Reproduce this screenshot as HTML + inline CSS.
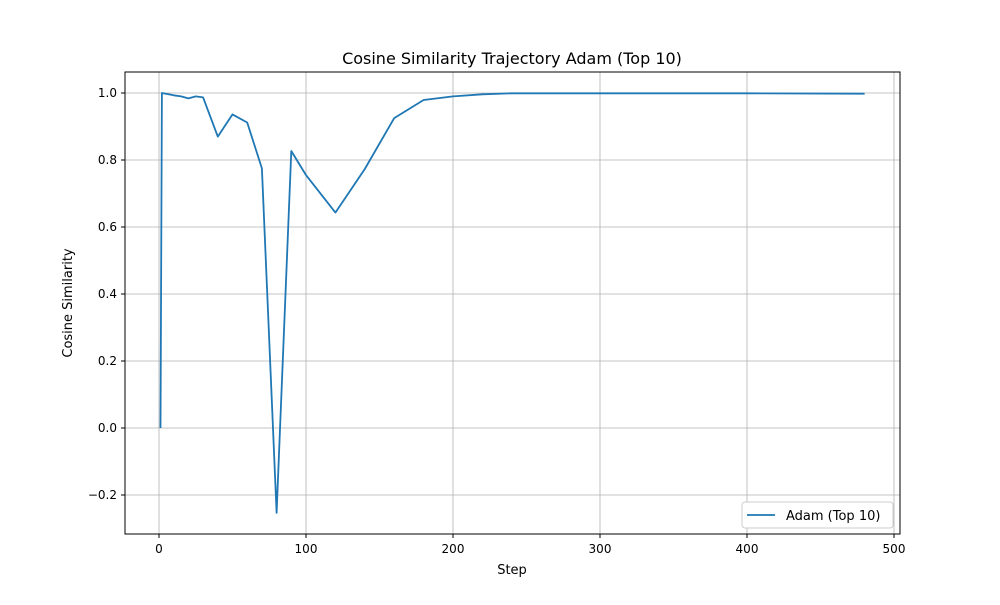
<!DOCTYPE html>
<html><head><meta charset="utf-8"><style>
body{margin:0;background:#fff;}
svg text{font-family:"DejaVu Sans","Liberation Sans",sans-serif;fill:#000;}
</style></head><body>
<svg id="chart" width="1000" height="600" xmlns="http://www.w3.org/2000/svg">
<rect width="1000" height="600" fill="#fff"/>
<g id="grid"></g>
<g id="ticks"></g>
<path id="line" fill="none" stroke="#1f77b4" stroke-width="1.8" stroke-linejoin="round"/>
<rect x="125" y="72" width="775" height="462" fill="none" stroke="#000" stroke-width="1"/>
<text x="512" y="64" font-size="16" text-anchor="middle">Cosine Similarity Trajectory Adam (Top 10)</text>
<text x="512" y="574" font-size="13" text-anchor="middle">Step</text>
<text transform="translate(72,303) rotate(-90)" font-size="13" text-anchor="middle">Cosine Similarity</text>
<g>
<rect x="742" y="502" width="151" height="26" rx="3" fill="#fff" stroke="#ccc"/>
<line x1="747" y1="515" x2="775" y2="515" stroke="#1f77b4" stroke-width="1.8"/>
<text x="786" y="520" font-size="13">Adam (Top 10)</text>
</g>
</svg>
<script>
const steps=[1,2,10,15,20,25,30,40,50,60,70,80,90,100,120,140,160,180,200,220,240,300,400,480];
const values=[0.0,1.0,0.993,0.99,0.984,0.99,0.987,0.87,0.936,0.912,0.775,-0.253,0.827,0.755,0.643,0.773,0.925,0.979,0.99,0.996,0.999,0.999,0.999,0.998];
const xTicks=[0,100,200,300,400,500];
const yTicks=[-0.2,0.0,0.2,0.4,0.6,0.8,1.0];
const xs=v=>159+v*1.47;
const ys=v=>428-v*335;
const NS="http://www.w3.org/2000/svg";
const grid=document.getElementById('grid'),ticks=document.getElementById('ticks');
function mk(tag,attrs,parent){const e=document.createElementNS(NS,tag);for(const k in attrs)e.setAttribute(k,attrs[k]);parent.appendChild(e);return e;}
xTicks.forEach(t=>{const x=xs(t);
const g=mk('line',{x1:x,x2:x,y1:72,y2:534,stroke:'#b0b0b0','stroke-width':0.8},grid);


const tk=mk('line',{x1:x,x2:x,y1:534,y2:538,stroke:'#000'},ticks);


const l=mk('text',{x:x,y:553,'font-size':12,'text-anchor':'middle'},ticks);l.textContent=t;

});
yTicks.forEach(t=>{const y=ys(t);
const g=mk('line',{x1:125,x2:900,y1:y,y2:y,stroke:'#b0b0b0','stroke-width':0.8},grid);


const tk=mk('line',{x1:121,x2:125,y1:y,y2:y,stroke:'#000'},ticks);


const l=mk('text',{x:117,y:y+4,'font-size':12,'text-anchor':'end'},ticks);l.textContent=(t<0?'\u2212':'')+Math.abs(t).toFixed(1);

});
document.getElementById('line').setAttribute('d',steps.map((s,i)=>(i?'L':'M')+xs(s).toFixed(1)+','+ys(values[i]).toFixed(1)).join(''));
</script>
</body></html>
